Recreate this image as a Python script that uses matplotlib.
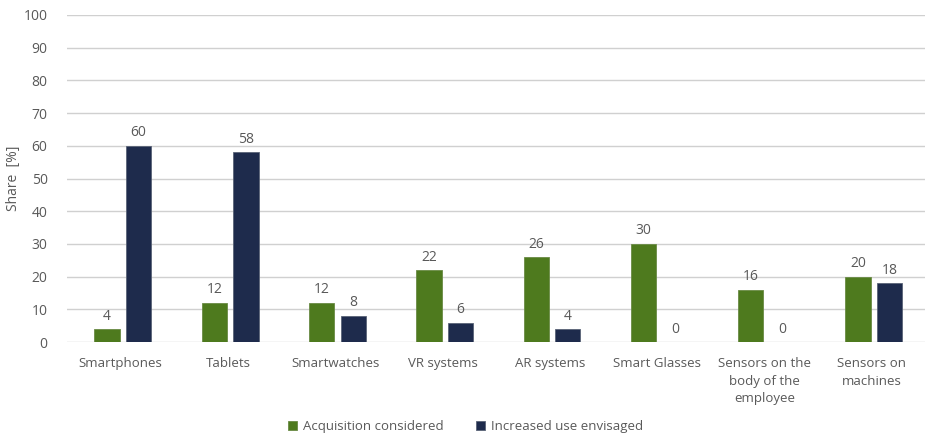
import numpy as np
import matplotlib.pyplot as plt

plt.rcParams['font.family'] = ['Open Sans', 'DejaVu Sans']

categories = ["Smartphones", "Tablets", "Smartwatches", "VR systems", "AR systems",
              "Smart Glasses", "Sensors on the\nbody of the\nemployee", "Sensors on\nmachines"]
acquisition = [4, 12, 12, 22, 26, 30, 16, 20]
increased = [60, 58, 8, 6, 4, 0, 0, 18]

green = "#4E7A1E"
navy = "#1E2B4C"
txt = "#595959"

fig = plt.figure(figsize=(9.31, 4.37), dpi=100)
ax = fig.add_axes([0.072, 0.217, 0.922, 0.749])

x = np.arange(len(categories))
w = 0.235
b1 = ax.bar(x - w / 2 - 0.01, acquisition, w, color=green, edgecolor="#6A8A45", linewidth=0.6,
            label="Acquisition considered", zorder=3)
b2 = ax.bar(x + w / 2 + 0.05, increased, w, color=navy, edgecolor="#5A6377", linewidth=0.6,
            label="Increased use envisaged", zorder=3)
for bars in (b1, b2):
    ax.bar_label(bars, padding=4, fontsize=10, color=txt)

ax.set_xlim(-0.5, len(categories) - 0.5)
ax.set_ylim(0, 100)
ax.set_yticks(range(0, 101, 10))
ax.yaxis.grid(True, color="#D0D0D0", linewidth=1)
ax.set_axisbelow(True)
for s in ax.spines.values():
    s.set_visible(False)
ax.tick_params(length=0, labelsize=9.5, colors=txt)
ax.tick_params(axis="y", labelsize=10, pad=14)
ax.tick_params(axis="x", pad=11)
ax.set_xticks(x)
ax.set_xticklabels(categories, linespacing=1.45)
ax.set_ylabel("Share  [%]", fontsize=10, color=txt, labelpad=2)

fig.legend(loc="center", ncol=2, frameon=False, fontsize=9.5, labelcolor=txt,
           handlelength=0.7, handleheight=0.7, columnspacing=2.5, handletextpad=0.4,
           bbox_to_anchor=(0.5, 0.024), borderpad=0)

fig.savefig("out.png", dpi=100)
